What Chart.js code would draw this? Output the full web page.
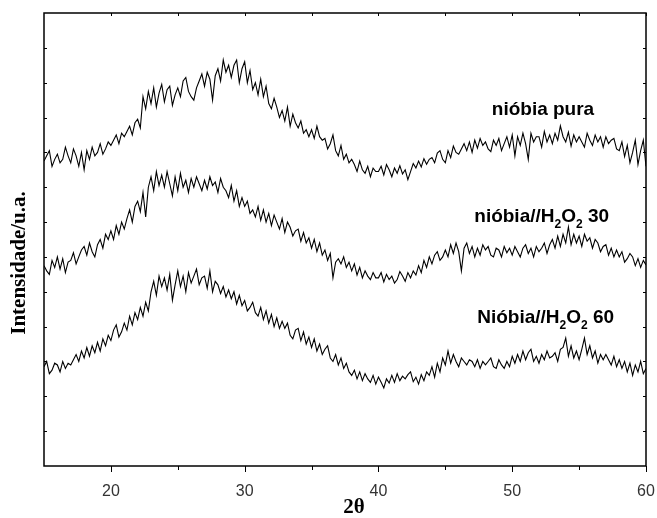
<!DOCTYPE html>
<html>
<head>
<meta charset="utf-8">
<script src="https://cdn.jsdelivr.net/npm/chart.js@4"></script>
<style>
html, body { margin: 0; padding: 0; background: #fff; }
</style>
</head>
<body>
<canvas id="xrd" width="657" height="518"></canvas>
<script>
// scan grid: 15..60 deg 2theta, 0.2 deg step
const scanStart = 15, scanStep = 0.2;

// intensities (a.u.), one row per degree
const pura = [
  875, 890, 905, 860, 880,    895, 870, 880, 915, 890,    870, 910, 890, 860, 900,
  850, 905, 880, 915, 890,    900, 925, 895, 910, 930,    920, 935, 950, 925, 955,
  945, 960, 975, 950, 985,    995, 970, 1060, 1025, 1075, 1040, 1085, 1030, 1070, 1095,
  1045, 1080, 1090, 1035, 1065, 1085, 1060, 1105, 1115, 1075, 1060, 1050, 1085, 1105, 1125,
  1090, 1130, 1110, 1050, 1120, 1140, 1105, 1165, 1130, 1150, 1115, 1150, 1165, 1100, 1140,
  1160, 1100, 1135, 1080, 1100, 1065, 1110, 1060, 1090, 1040, 1025, 1055, 1030, 1000, 1020,
  990, 1030, 975, 1010, 985,  970, 990, 955, 965, 945,    965, 940, 975, 945, 935,
  940, 910, 925, 950, 905,    890, 920, 880, 895, 870,    880, 865, 845, 875, 850,
  840, 860, 830, 855, 845,    845, 860, 835, 865, 850,    830, 855, 840, 862, 838,
  850, 822, 845, 868, 855,    875, 858, 882, 866, 880,    885, 870, 898, 905, 880,
  870, 905, 885, 918, 900,    895, 910, 925, 905, 930,    900, 935, 912, 940, 920,
  930, 910, 902, 935, 920,    940, 905, 925, 945, 915,    950, 890, 945, 920, 955,
  925, 880, 955, 930, 945,    945, 915, 960, 930, 950,    925, 955, 935, 976, 945,
  930, 958, 918, 950, 930,    945, 930, 915, 955, 935,    920, 950, 930, 945, 915,
  945, 925, 935, 940, 910,    905, 930, 888, 920, 870,    900, 935, 865, 905, 935,
  860
];
const h2o2_30 = [
  575, 560, 550, 590, 570,    600, 565, 595, 555, 585,    590, 612, 580, 600, 620,
  630, 605, 640, 615, 600,    635, 650, 625, 665, 650,    675, 650, 690, 665, 700,
  680, 710, 735, 700, 745,    760, 730, 785, 715, 800,    830, 790, 845, 805, 835,
  800, 845, 810, 775, 830,    790, 840, 800, 820, 785,    825, 800, 830, 810, 790,
  820, 795, 830, 805, 815,    785, 825, 800, 790, 770,    805, 760, 790, 745, 770,
  745, 760, 725, 735, 715,    745, 705, 735, 700, 725,    690, 720, 700, 680, 710,
  670, 700, 685, 660, 675,    680, 645, 670, 640, 655,    625, 650, 615, 640, 605,
  620, 590, 610, 540, 585,    595, 580, 600, 570, 585,    560, 580, 548, 570, 540,
  560, 545, 535, 555, 540,    540, 555, 528, 550, 535,    545, 525, 535, 558, 545,
  530, 555, 540, 560, 548,    575, 555, 590, 570, 600,    580, 605, 615, 590, 600,
  620, 600, 635, 610, 640,    615, 560, 625, 640, 610,    630, 600, 625, 605, 635,
  620, 630, 605, 600, 625,    620, 600, 630, 612, 625,    605, 630, 615, 600, 625,
  635, 610, 625, 600, 630,    615, 625, 640, 610, 635,    650, 625, 660, 630, 665,
  640, 686, 635, 665, 640,    660, 630, 665, 645, 655,    625, 650, 640, 615, 630,
  635, 605, 625, 600, 620,    600, 615, 585, 595, 610,    600, 575, 595, 570, 590,
  577
];
const h2o2_60 = [
  285, 300, 265, 275, 295,    290, 270, 300, 280, 295,    290, 305, 320, 300, 330,
  310, 340, 315, 345, 325,    355, 330, 365, 345, 375,    360, 390, 405, 370, 385,
  410, 390, 430, 405, 440,    420, 455, 430, 470, 445,    500, 530, 490, 545, 515,
  540, 505, 550, 476, 520,    560, 515, 545, 500, 555,    525, 545, 565, 520, 540,
  545, 510, 560, 500, 530,    520, 495, 515, 485, 505,    480, 500, 465, 490, 460,
  475, 445, 455, 470, 440,    430, 455, 420, 445, 410,    435, 400, 425, 395, 415,
  395, 410, 375, 365, 390,    395, 360, 385, 350, 370,    340, 365, 330, 350, 320,
  335, 345, 310, 300, 320,    290, 310, 280, 295, 270,    260, 275, 250, 270, 245,
  265, 250, 240, 260, 235,    255, 240, 224, 250, 238,    260, 240, 265, 245, 258,
  250, 262, 270, 242, 255,    235, 262, 245, 270, 260,    285, 255, 295, 270, 310,
  290, 330, 295, 320, 300,    285, 310, 300, 290, 305,    300, 285, 305, 280, 300,
  290, 300, 310, 285, 280,    305, 290, 280, 300, 285,    315, 295, 320, 300, 330,
  305, 325, 335, 300, 315,    295, 320, 305, 330, 310,    315, 325, 300, 335, 340,
  367, 315, 345, 310, 330,    305, 335, 367, 320, 345,    310, 330, 295, 320, 305,
  320, 305, 290, 315, 285,    305, 280, 300, 270, 295,    260, 290, 270, 300, 265,
  280
];

const xTickLabels = [20, 30, 40, 50, 60];
const xMinorTicks = [20, 25, 30, 35, 40, 45, 50, 55, 60];
const yTicks = [100, 200, 300, 400, 500, 600, 700, 800, 900, 1000, 1100, 1200];

// curve labels: text pieces, second field = subscript
const curveLabels = [
  [['nióbia pura', 0]],
  [['nióbia//H', 0], ['2', 1], ['O', 0], ['2', 1], [' 30', 0]],
  [['Nióbia//H', 0], ['2', 1], ['O', 0], ['2', 1], [' 60', 0]]
];
const labelAnchors = [[52.3, 1007], [52.2, 700], [52.5, 410]];

const angles = pura.map((_, i) => +(scanStart + i * scanStep).toFixed(2));
const toXY = arr => arr.map((v, i) => ({ x: angles[i], y: v }));

const frame = {
  id: 'frame',
  afterDraw(chart) {
    const { ctx, chartArea: a, scales: { x, y } } = chart;
    ctx.save();
    ctx.strokeStyle = '#000';
    ctx.lineWidth = 1.5;
    ctx.strokeRect(a.left, a.top, a.right - a.left, a.bottom - a.top);
    ctx.lineWidth = 1;
    ctx.beginPath();
    xMinorTicks.forEach(v => {
      const px = Math.round(x.getPixelForValue(v)) + 0.5;
      const len = v % 10 === 0 ? 6 : 4;
      ctx.moveTo(px, a.bottom); ctx.lineTo(px, a.bottom + len);
      ctx.moveTo(px, a.top); ctx.lineTo(px, a.top + 3);
    });
    yTicks.forEach(v => {
      const py = Math.round(y.getPixelForValue(v)) + 0.5;
      ctx.moveTo(a.left, py); ctx.lineTo(a.left + 3, py);
      ctx.moveTo(a.right, py); ctx.lineTo(a.right - 3, py);
    });
    ctx.stroke();

    // curve labels
    ctx.fillStyle = '#000';
    ctx.textBaseline = 'alphabetic';
    ctx.textAlign = 'left';
    const mainFont = 'bold 19px "Liberation Sans", Arial, sans-serif';
    const subFont = 'bold 12px "Liberation Sans", Arial, sans-serif';
    curveLabels.forEach((parts, i) => {
      let w = 0;
      parts.forEach(([t, sub]) => { ctx.font = sub ? subFont : mainFont; w += ctx.measureText(t).width; });
      let cx = x.getPixelForValue(labelAnchors[i][0]) - w / 2;
      const by = y.getPixelForValue(labelAnchors[i][1]);
      parts.forEach(([t, sub]) => {
        ctx.font = sub ? subFont : mainFont;
        ctx.fillText(t, cx, sub ? by + 6 : by);
        cx += ctx.measureText(t).width;
      });
    });

    // axis titles
    ctx.font = 'bold 21px "Liberation Serif", "Times New Roman", serif';
    ctx.textAlign = 'center';
    ctx.textBaseline = 'middle';
    ctx.fillText('2θ', 354, 508);
    ctx.translate(20, 263);
    ctx.rotate(-Math.PI / 2);
    ctx.fillText('Intensidade/u.a.', 0, 0);
    ctx.restore();
  }
};

const line = (data) => ({ data: toXY(data), borderColor: '#000', borderWidth: 1.1, pointRadius: 0, fill: false, tension: 0 });

new Chart(document.getElementById('xrd'), {
  type: 'line',
  data: { datasets: [line(pura), line(h2o2_30), line(h2o2_60)] },
  options: {
    responsive: false,
    animation: false,
    devicePixelRatio: 1,
    layout: { padding: { left: 44, right: 11, top: 13, bottom: 0 } },
    plugins: { legend: { display: false }, tooltip: { enabled: false } },
    scales: {
      x: {
        type: 'linear', min: 15, max: 60,
        afterBuildTicks: s => { s.ticks = xTickLabels.map(v => ({ value: v })); },
        afterFit: s => { s.height = 52; s.paddingLeft = 0; s.paddingRight = 0; },
        ticks: { font: { family: '"Liberation Sans", Arial, sans-serif', size: 16 }, color: '#333', padding: 16, maxRotation: 0 },
        grid: { display: false, drawTicks: false },
        border: { display: false }
      },
      y: { display: false, min: 0, max: 1300 }
    }
  },
  plugins: [frame]
});
</script>
</body>
</html>
